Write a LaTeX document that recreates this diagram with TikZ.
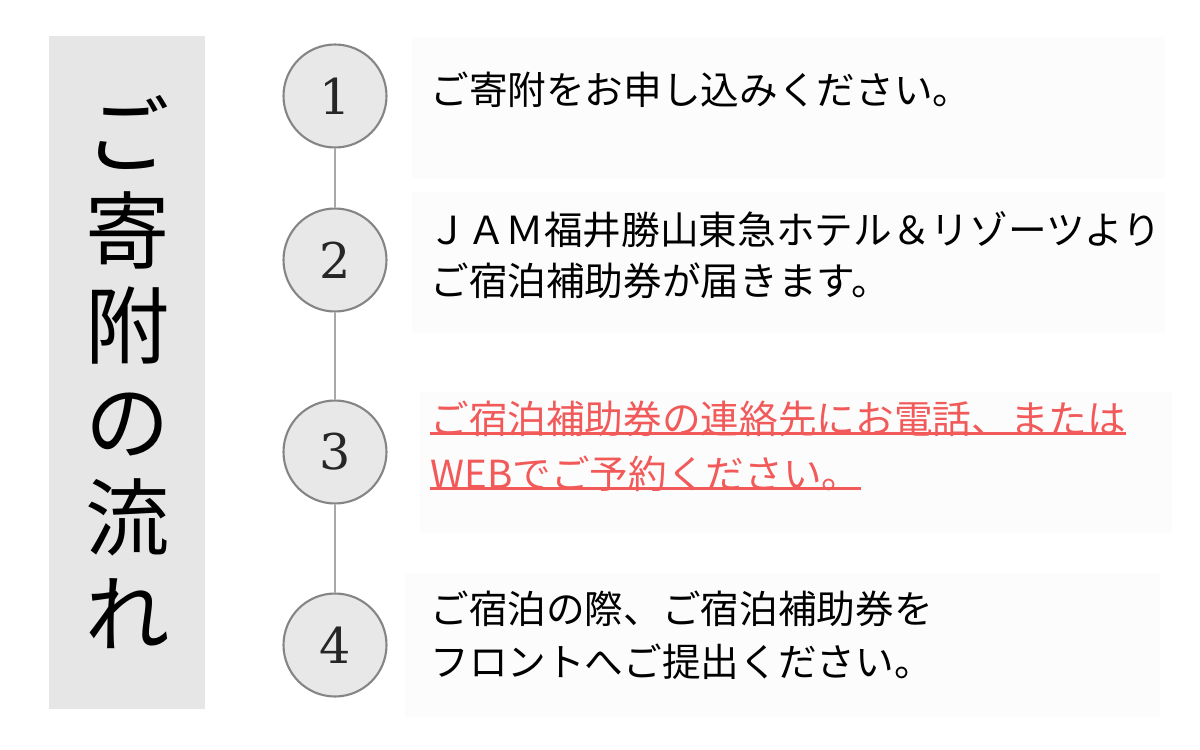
\documentclass[tikz,border=0pt]{standalone}
\usepackage{fontspec}
\newfontfamily\jp{Noto Sans CJK JP}
\newfontfamily\numfont{DejaVu Serif}
\definecolor{barbg}{HTML}{E6E6E6}
\definecolor{boxbg}{HTML}{FCFCFC}
\definecolor{circfill}{HTML}{E8E8E8}
\definecolor{circborder}{HTML}{858585}
\definecolor{linkgray}{HTML}{A8A8A8}
\definecolor{redtext}{HTML}{F25A5A}
\begin{document}
\begin{tikzpicture}[x=0.02cm,y=-0.02cm,
  stepbox/.style={fill=boxbg},
  numcirc/.style={circle,draw=circborder,line width=1.2pt,fill=circfill,
    minimum size=2.06cm,inner sep=0pt,text=black!85,font=\numfont\fontsize{28}{28}\selectfont},
  link/.style={draw=linkgray,line width=1.2pt},
  txt/.style={anchor=west,inner sep=0pt,text height=0.88em,text depth=0.12em,
    font=\jp\fontsize{22}{22}\selectfont},
  redtxt/.style={txt,text=redtext},
  uline/.style={draw=redtext,line width=1.6pt},
  vtext/.style={align=center,inner sep=0pt,font=\jp\fontsize{48}{54.6}\selectfont}
]
\useasboundingbox (0,0) rectangle (1200,750);
\fill[white] (0,0) rectangle (1200,750);
% left title bar
\fill[barbg] (49,36) rectangle (205,709);
\node[vtext] (title) at (128,372) {ご\\寄\\附\\の\\流\\れ};
% step boxes
\fill[stepbox] (412,37) rectangle (1165,178);
\fill[stepbox] (412,192) rectangle (1165,333);
\fill[stepbox] (420,392) rectangle (1172,533);
\fill[stepbox] (405,573) rectangle (1160,717);
% circles
\node[numcirc] (c1) at (335,96) {1};
\node[numcirc] (c2) at (335,260) {2};
\node[numcirc] (c3) at (335,452) {3};
\node[numcirc] (c4) at (335,645) {4};
\draw[link] (c1.south) -- (c2.north);
\draw[link] (c2.south) -- (c3.north);
\draw[link] (c3.south) -- (c4.north);
% texts
\node[txt] (t1) at (430,98) {ご寄附をお申し込みください。};
\node[txt] (t2a) at (428,238) {ＪＡＭ福井勝山東急ホテル＆リゾーツより};
\node[txt] (t2b) at (430,289) {ご宿泊補助券が届きます。};
\node[redtxt] (t3a) at (430,427) {ご宿泊補助券の連絡先にお電話、または};
\node[redtxt] (t3b) at (430,482) {WEBでご予約ください。\hspace{6pt}};
\draw[uline] ([yshift=1.6pt]t3a.south west) -- ([yshift=1.6pt]t3a.south east);
\draw[uline] ([yshift=1.6pt]t3b.south west) -- ([yshift=1.6pt]t3b.south east);
\node[txt] (t4a) at (430,617) {ご宿泊の際、ご宿泊補助券を};
\node[txt] (t4b) at (430,670) {フロントへご提出ください。};
\end{tikzpicture}
\end{document}
